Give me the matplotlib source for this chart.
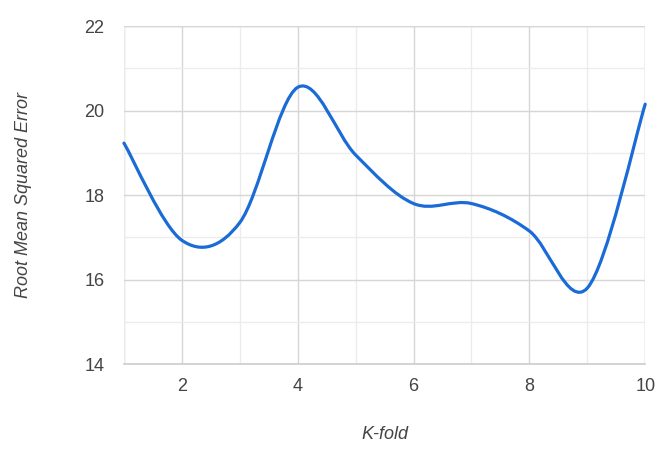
import numpy as np
import matplotlib
matplotlib.use("Agg")
import matplotlib.pyplot as plt
from matplotlib.path import Path
import matplotlib.patches as mpatches

# data
k_fold = [1, 2, 3, 4, 5, 6, 7, 8, 9, 10]
rmse = [19.23, 16.93, 17.35, 20.55, 18.95, 17.80, 17.80, 17.15, 15.80, 20.15]
x_ticks = [2, 4, 6, 8, 10]
y_ticks = [14, 16, 18, 20, 22]

LINE_CLR = "#1a6bd6"
TEXT_CLR = "#444444"
GRID_MAJOR = "#d6d6d6"
GRID_MINOR = "#ececec"

plt.rcParams["font.family"] = ["Liberation Sans", "DejaVu Sans"]

fig = plt.figure(figsize=(6.7, 4.49), dpi=100)
ax = fig.add_axes([0.185, 0.189, 0.778, 0.753])

ax.set_xlim(1, 10)
ax.set_ylim(14, 22)

# grid: major at labelled ticks, minor in between
ax.set_xticks(x_ticks)
ax.set_yticks(y_ticks)
ax.set_xticks(np.arange(1, 11, 1), minor=True)
ax.set_yticks(np.arange(14, 23, 1), minor=True)
ax.grid(which="major", color=GRID_MAJOR, linewidth=1.0)
ax.grid(which="minor", color=GRID_MINOR, linewidth=1.0)
ax.set_axisbelow(True)
for side in ["top", "right", "left"]:
    ax.spines[side].set_visible(False)
ax.spines["bottom"].set_color("#cccccc")
ax.spines["bottom"].set_linewidth(1.2)
ax.axvline(1, color=GRID_MAJOR, linewidth=1.0, zorder=0)
ax.axvline(10, color=GRID_MAJOR, linewidth=1.0, zorder=0)
ax.axhline(22, color=GRID_MAJOR, linewidth=1.0, zorder=0)

ax.tick_params(which="both", length=0)
ax.tick_params(axis="x", labelsize=13, labelcolor=TEXT_CLR, pad=10)
ax.tick_params(axis="y", labelsize=13, labelcolor=TEXT_CLR, pad=14)

# smooth curve (catmull-rom style bezier, like curveType 'function')
xs = np.array(k_fold, dtype=float)
ys = np.array(rmse, dtype=float)
verts = [(xs[0], ys[0])]
codes = [Path.MOVETO]
n = len(xs)
for i in range(n - 1):
    p0 = i - 1 if i > 0 else i
    p3 = i + 2 if i + 2 < n else i + 1
    c1 = (xs[i] + (xs[i + 1] - xs[p0]) / 6, ys[i] + (ys[i + 1] - ys[p0]) / 6)
    c2 = (xs[i + 1] - (xs[p3] - xs[i]) / 6, ys[i + 1] - (ys[p3] - ys[i]) / 6)
    verts += [c1, c2, (xs[i + 1], ys[i + 1])]
    codes += [Path.CURVE4] * 3
curve = mpatches.PathPatch(Path(verts, codes), facecolor="none",
                           edgecolor=LINE_CLR, linewidth=2.3,
                           capstyle="round", joinstyle="round", zorder=3,
                           clip_on=False)
ax.add_patch(curve)

ax.set_xlabel("K-fold", fontsize=13, style="italic", color=TEXT_CLR,
              labelpad=22)
ax.set_ylabel("Root Mean Squared Error", fontsize=13, style="italic",
              color=TEXT_CLR, labelpad=38)

fig.savefig("out.png", dpi=100)
